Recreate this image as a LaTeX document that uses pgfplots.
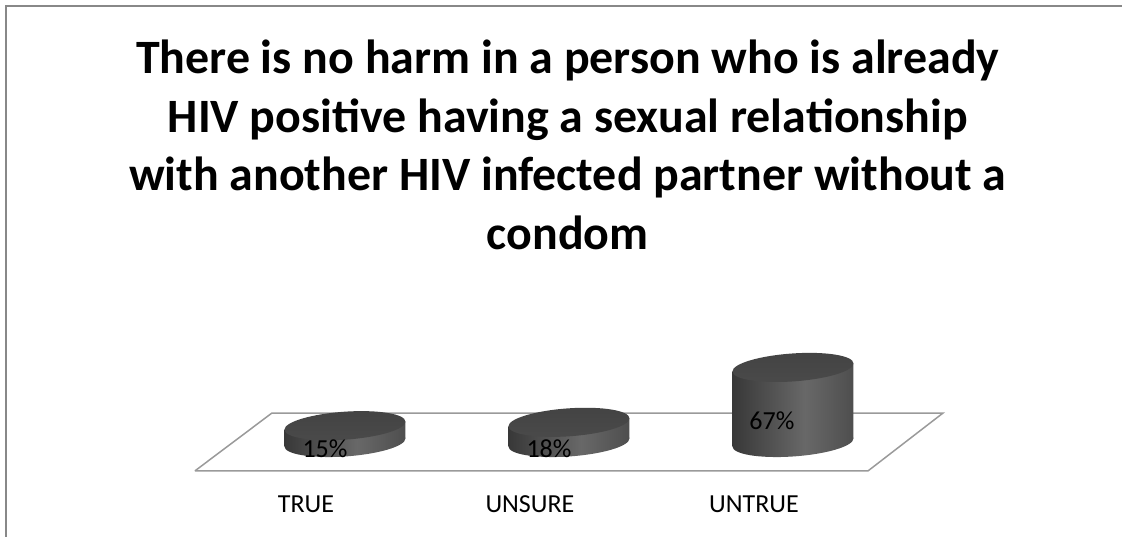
\documentclass[border=0pt]{standalone}
\usepackage{fontspec}
\setmainfont{Carlito}
\usepackage{pgfplots}
\pgfplotsset{compat=1.18}

\definecolor{framegray}{HTML}{888888}
\definecolor{floorgray}{HTML}{9A9A9A}
\definecolor{cylA}{HTML}{383838}
\definecolor{cylB}{HTML}{686868}
\definecolor{cylC}{HTML}{4E4E4E}
\definecolor{capA}{HTML}{434343}
\definecolor{capB}{HTML}{4A4A4A}

\pgfdeclarehorizontalshading{cylbody}{100bp}{color(0bp)=(cylA); color(25bp)=(cylA); color(55bp)=(cylB); color(75bp)=(cylC); color(100bp)=(cylC)}
\pgfdeclareverticalshading{cylcap}{100bp}{color(0bp)=(capB); color(25bp)=(capB); color(75bp)=(capA); color(100bp)=(capA)}

% one cylinder, anchored at the centre of its cap; \cylh is the value
\pgfdeclareplotmark{cyl}{%
  \pgfmathsetmacro\hh{\cylh*1.12}%
  \pgfpathellipse{\pgfpoint{0pt}{-\hh pt}}{\pgfpoint{60.5pt}{4pt}}{\pgfpoint{0pt}{14pt}}%
  \pgfshadepath{cylbody}{0}\pgfusepath{discard}%
  \pgfpathmoveto{\pgfpoint{-60.5pt}{-4pt-\hh pt}}%
  \pgfpathlineto{\pgfpoint{-60.5pt}{-4pt}}%
  \pgfpathlineto{\pgfpoint{60.5pt}{4pt}}%
  \pgfpathlineto{\pgfpoint{60.5pt}{4pt-\hh pt}}%
  \pgfpathclose
  \pgfshadepath{cylbody}{0}\pgfusepath{discard}%
  \pgfpathellipse{\pgfpointorigin}{\pgfpoint{60.5pt}{4pt}}{\pgfpoint{0pt}{14pt}}%
  \pgfshadepath{cylcap}{0}\pgfusepath{discard}%
}

\begin{document}
\begin{tikzpicture}
\begin{axis}[
    at={(0pt,0pt)},
    anchor=south west,
    scale only axis,
    width=1122pt,
    height=537pt,
    xmin=-1.540, xmax=3.469,
    ymin=-84.4, ymax=395.1,
    clip=false,
    axis line style={draw=none},
    tick style={draw=none},
    ytick=\empty,
    xtick={0,1,2},
    xticklabels={TRUE,UNSURE,UNTRUE},
    x tick label style={font=\fontsize{26}{28}\selectfont, anchor=base, yshift=24.3pt, xshift=-39pt},
    title={There is no harm in a person who is already\\HIV positive having a sexual relationship\\with another HIV infected partner without a\\condom},
    title style={at={(rel axis cs:0.506,0.9212)}, anchor=north, align=center,
        font=\fontsize{47.9}{58.7}\selectfont\bfseries},
]
    % floor of the 3D plot
    \addplot[draw=floorgray, line width=1.5pt] coordinates {
        (-0.670,-25.4)(-0.326,26.3)(2.670,26.3)(2.335,-25.4)(-0.670,-25.4)
    };
    % the three values
    \addplot[scatter, only marks, mark=cyl,
        visualization depends on={rawy \as \cylh},
        scatter/@pre marker code/.code={},
        scatter/@post marker code/.code={}] coordinates {
        (0,15)(1,18)(2,67)
    };
    \coordinate (la) at (axis cs:-0.089,-5.8);
    \coordinate (lb) at (axis cs:0.911,-5.8);
    \coordinate (lc) at (axis cs:1.906,19.2);
    % chart frame: left and top only
    \draw[framegray, line width=2pt] (axis cs:-1.514,-84.4) -- (axis cs:-1.514,389.6) -- (axis cs:3.469,389.6);
\end{axis}
% value labels go on top of the cylinders
\node[font=\fontsize{26}{28}\selectfont] at (la) {15\%};
\node[font=\fontsize{26}{28}\selectfont] at (lb) {18\%};
\node[font=\fontsize{26}{28}\selectfont] at (lc) {67\%};
\pgfresetboundingbox
\path[use as bounding box] (0pt,0pt) rectangle (1122pt,537pt);
\end{tikzpicture}
\end{document}
